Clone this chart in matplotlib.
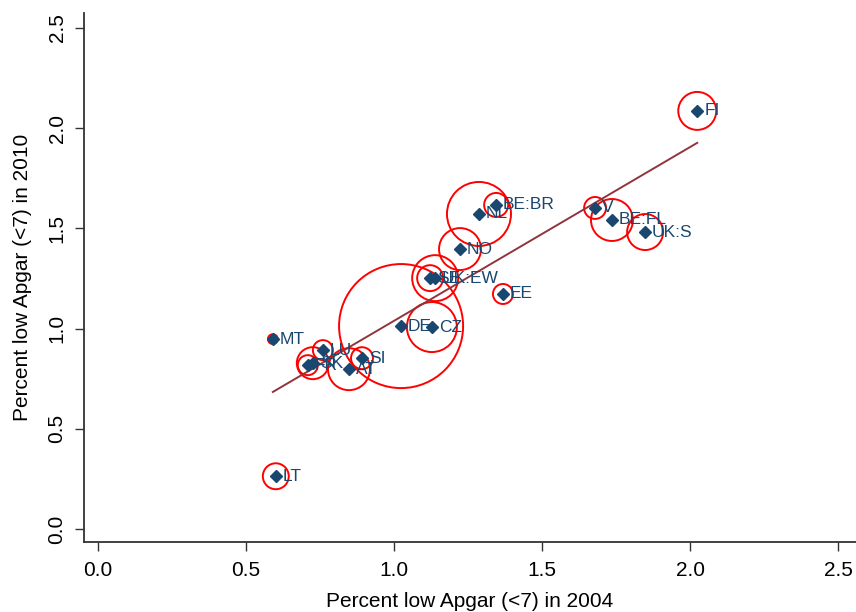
import matplotlib.pyplot as plt
import numpy as np

plt.rcParams["font.family"] = ["Liberation Sans", "DejaVu Sans"]

# country codes, low Apgar (%) in 2004 and 2010, relative weight (circle area)
countries = ["FI", "V", "BE:FL", "UK:S", "BE:BR", "NL", "NO", "SE", "UK:EW", "EE",
             "DE", "CZ", "MT", "LU", "FR", "SK", "AT", "SI", "LT"]
apgar_2004 = [2.024, 1.679, 1.736, 1.848, 1.345, 1.287, 1.223, 1.122, 1.139, 1.368,
              1.024, 1.128, 0.591, 0.760, 0.709, 0.726, 0.848, 0.892, 0.601]
apgar_2010 = [2.086, 1.602, 1.542, 1.482, 1.617, 1.572, 1.397, 1.252, 1.252, 1.173,
              1.013, 1.008, 0.948, 0.893, 0.818, 0.828, 0.798, 0.853, 0.264]
weight = [90, 30, 110, 81, 36, 256, 110, 42, 132, 25,
          961, 156, 6, 25, 25, 64, 110, 30, 42]

# fitted line
fit_slope = 0.867
fit_intercept = 0.172

navy = "#1a476f"

fig = plt.figure(figsize=(8.56, 6.12), dpi=100)
ax = fig.add_axes([0.098, 0.114, 0.902, 0.865])

x = np.array(apgar_2004)
y = np.array(apgar_2010)
w = np.array(weight)

# weighted circles
ax.scatter(x, y, s=w * 8.3, facecolors="none", edgecolors="red", linewidths=1.4, zorder=2)

# fitted line over the data range
xs = np.array([x.min(), x.max()])
ax.plot(xs, fit_intercept + fit_slope * xs, color="#90353b", lw=1.4, zorder=3)

# points and labels
ax.plot(x, y, linestyle="none", marker="D", markersize=6, color=navy, zorder=4)
for name, xi, yi in zip(countries, x, y):
    ax.annotate(name, (xi, yi), xytext=(5, 0), textcoords="offset points",
                ha="left", va="center", fontsize=12.5, color=navy, zorder=5)

ax.set_xlim(-0.047, 2.56)
ax.set_ylim(-0.065, 2.575)
ax.set_xticks([0.0, 0.5, 1.0, 1.5, 2.0, 2.5])
ax.set_yticks([0.0, 0.5, 1.0, 1.5, 2.0, 2.5])
ax.xaxis.set_major_formatter(plt.FormatStrFormatter("%.1f"))
ax.yaxis.set_major_formatter(plt.FormatStrFormatter("%.1f"))
ax.tick_params(axis="both", length=6.5, width=1, labelsize=15, color="#333333")
ax.tick_params(axis="x", pad=7)
ax.tick_params(axis="y", pad=6)
plt.setp(ax.get_yticklabels(), rotation=90, va="center")

for side in ["top", "right"]:
    ax.spines[side].set_visible(False)
for side in ["left", "bottom"]:
    ax.spines[side].set_linewidth(1.3)
    ax.spines[side].set_color("#333333")

ax.set_xlabel("Percent low Apgar (<7) in 2004", fontsize=15, labelpad=9)
ax.set_ylabel("Percent low Apgar (<7) in 2010", fontsize=15, labelpad=11)

fig.savefig("out.png", dpi=100)
